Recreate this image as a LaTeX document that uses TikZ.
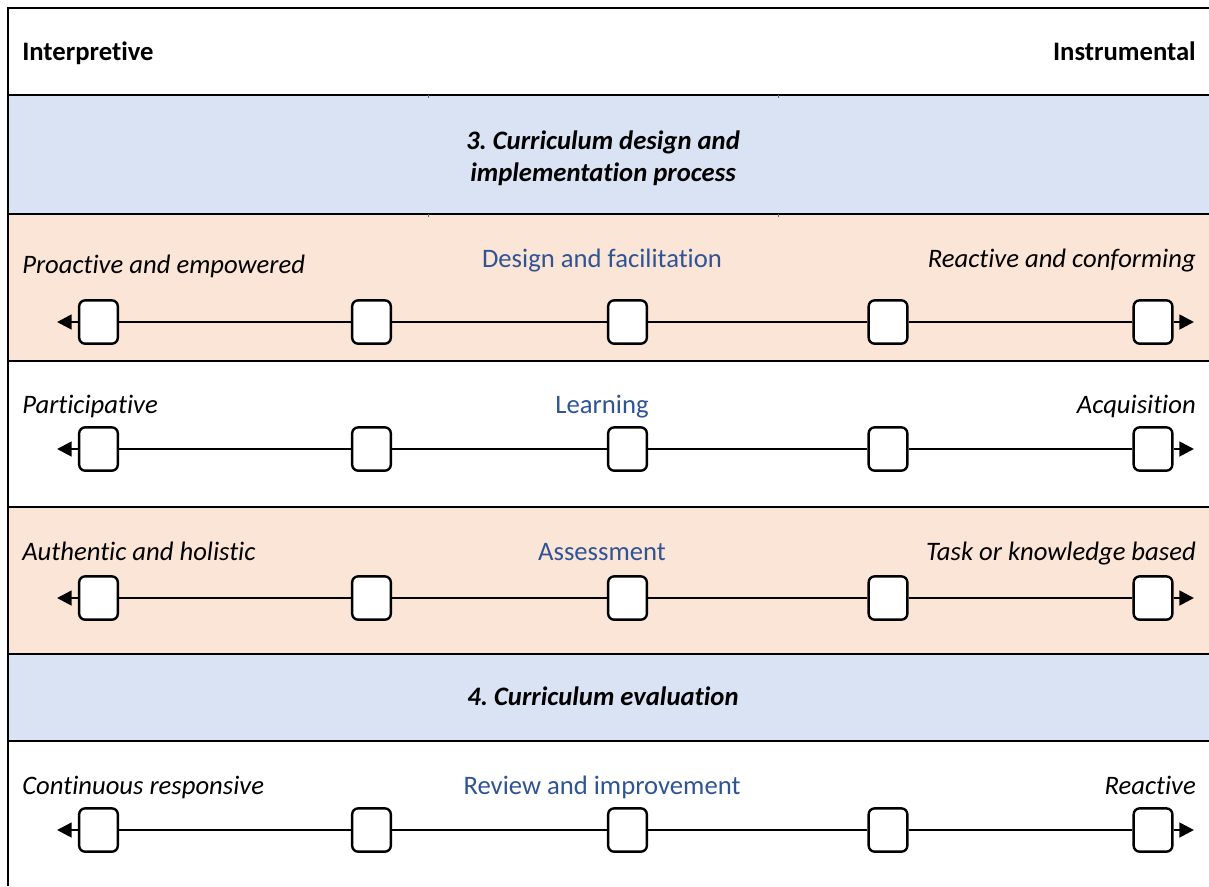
\documentclass[tikz,border=0pt]{standalone}
\usepackage{fontspec}
\setmainfont[RawFeature={-liga;-calt;-dlig;-clig}]{Carlito}
\frenchspacing
\usetikzlibrary{arrows.meta}
\definecolor{bandblue}{HTML}{DAE3F3}
\definecolor{peach}{HTML}{FBE5D6}
\definecolor{textblue}{HTML}{2F5496}
\begin{document}
\begin{tikzpicture}[x=0.75pt,y=-0.75pt,
  stopbox/.style={draw,line width=1.8pt,fill=white,rounded corners=4.5pt,minimum width=29pt,minimum height=32.5pt,inner sep=0pt},
  axisline/.style={line width=2pt},
  endarrow/.style={line width=2pt,-{Triangle[length=11pt,width=11pt]}},
  sidelabel/.style={font=\fontsize{20}{24}\selectfont\itshape,inner sep=0pt},
  midlabel/.style={font=\fontsize{20}{24}\selectfont,text=textblue,inner sep=0pt,anchor=base},
  headlabel/.style={font=\fontsize{20}{24}\selectfont\bfseries,inner sep=0pt},
  titlelabel/.style={font=\fontsize{20}{24}\selectfont\bfseries\itshape,inner sep=0pt,align=center},
  rowrule/.style={line width=1.2pt},
  framerule/.style={line width=2pt}]
\useasboundingbox (0,0) rectangle (1209,886);
% backgrounds
\fill[white] (0,0) rectangle (1209,886);
\fill[bandblue] (8,95) rectangle (1209,214);
\fill[peach] (8,214) rectangle (1209,361);
\fill[peach] (8,507) rectangle (1209,654);
\fill[bandblue] (8,654) rectangle (1209,741);
% rules
\foreach \yy in {95,214,361,507,654,741} \draw[rowrule] (8,\yy) -- (1209,\yy);
\foreach \xx in {428,778} {
  \draw[line width=0.7pt,black!60] (\xx,95) -- (\xx,98);
  \draw[line width=0.7pt,black!60] (\xx,214) -- (\xx,217);
}
\draw[framerule] (8,886) -- (8,8) -- (1209,8);
% header
\node[headlabel,anchor=base west] (interp) at (22,60) {Interpretive};
\node[headlabel,anchor=base east] (instr) at (1196,60) {Instrumental};
% titles
\node[titlelabel] (title3) at (603,158) {3. Curriculum design and\\implementation process};
\node[titlelabel,anchor=base] (title4) at (603,705) {4. Curriculum evaluation};
% row labels
\node[sidelabel,anchor=base west] (l1) at (22,273) {Proactive and empowered};
\node[midlabel] (m1) at (602,267) {Design and facilitation};
\node[sidelabel,anchor=base east] (r1) at (1196,267) {Reactive and conforming};
\node[sidelabel,anchor=base west] (l2) at (22,413) {Participative};
\node[midlabel] (m2) at (602,413) {Learning};
\node[sidelabel,anchor=base east] (r2) at (1196,413) {Acquisition};
\node[sidelabel,anchor=base west] (l3) at (22,560) {Authentic and holistic};
\node[midlabel] (m3) at (602,560) {Assessment};
\node[sidelabel,anchor=base east] (r3) at (1196,560) {Task or knowledge based};
\node[sidelabel,anchor=base west] (l5) at (22,794) {Continuous responsive};
\node[midlabel] (m5) at (602,794) {Review and improvement};
\node[sidelabel,anchor=base east] (r5) at (1196,794) {Reactive};
% scales
\foreach \r/\yy in {1/322,2/449,3/598,5/830} {
  \foreach \i/\xx in {1/98.5,2/371.5,3/627.5,4/888,5/1153}
    \node[stopbox] (r\r b\i) at (\xx,\yy) {};
  \coordinate (r\r L) at (57,\yy);
  \coordinate (r\r R) at (1194,\yy);
  \draw[axisline] (r\r b1) -- (r\r b2);
  \draw[axisline] (r\r b2) -- (r\r b3);
  \draw[axisline] (r\r b3) -- (r\r b4);
  \draw[axisline] (r\r b4) -- (r\r b5);
  \draw[endarrow] (r\r b1) -- (r\r L);
  \draw[endarrow] (r\r b5) -- (r\r R);
}
\end{tikzpicture}
\end{document}
